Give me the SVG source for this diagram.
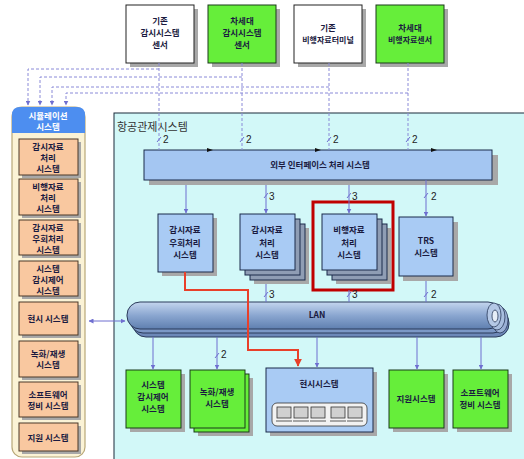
<svg xmlns="http://www.w3.org/2000/svg" width="524" height="459" viewBox="0 0 524 459">
<defs>
<style>
.t{font-family:"Noto Sans CJK KR","Noto Sans",sans-serif;font-size:8.5px;font-weight:bold;fill:#1a1a40;text-anchor:middle}
.tw{font-family:"Noto Sans CJK KR","Noto Sans",sans-serif;font-size:8.5px;font-weight:bold;fill:#ffffff;text-anchor:middle}
.num{font-family:"Liberation Sans",sans-serif;font-size:10px;fill:#222}
.sh{fill:#a8a8a8}
.white{fill:#ffffff;stroke:#222;stroke-width:1}
.green{fill:#66ee3a;stroke:#1a3a1a;stroke-width:1}
.blue{fill:#a9cbf4;stroke:#1a2a4a;stroke-width:1}
.back{fill:#8f9db4;stroke:#1a2a4a;stroke-width:1}
.peach{fill:#f9c8a0;stroke:#4a3828;stroke-width:1}
.dash{fill:none;stroke:#8a8ad8;stroke-width:1;stroke-dasharray:3,2}
.con{fill:none;stroke:#6f6fd0;stroke-width:1}
.tick{stroke:#6f6fd0;stroke-width:1}
.red{fill:none;stroke:#e8402a;stroke-width:2}
</style>
<marker id="ah" viewBox="0 0 10 10" refX="9" refY="5" markerWidth="5" markerHeight="5" orient="auto-start-reverse">
<path d="M0,0 L10,5 L0,10 z" fill="#6f6fd0"/>
</marker>
<marker id="ahr" viewBox="0 0 10 10" refX="9" refY="5" markerWidth="4" markerHeight="4" orient="auto">
<path d="M0,0 L10,5 L0,10 z" fill="#e8402a"/>
</marker>
<linearGradient id="lan" x1="0" y1="0" x2="0" y2="1">
<stop offset="0" stop-color="#c4d6ee"/>
<stop offset="0.5" stop-color="#8aa6d0"/>
<stop offset="1" stop-color="#5f7fb0"/>
</linearGradient>
</defs>

<!-- main system area -->
<g id="atc-system">
<rect x="114" y="113" width="420" height="360" fill="#d2f8f8" stroke="#1a2a3a" stroke-width="1"/>
<text x="117" y="131" style="font-family:'Noto Sans CJK KR',sans-serif;font-size:11px;fill:#333">항공관제시스템</text>
</g>

<!-- top sensor boxes -->
<g id="legacy-surv-sensor">
<rect class="sh" x="130" y="9" width="68" height="58"/>
<rect class="white" x="126" y="5" width="68" height="58"/>
<text class="t" x="160" y="24">기존</text>
<text class="t" x="160" y="36">감시시스템</text>
<text class="t" x="160" y="48">센서</text>
</g>
<g id="nextgen-surv-sensor">
<rect class="sh" x="212" y="9" width="68" height="58"/>
<rect class="green" x="208" y="5" width="68" height="58"/>
<text class="t" x="242" y="24">차세대</text>
<text class="t" x="242" y="36">감시시스템</text>
<text class="t" x="242" y="48">센서</text>
</g>
<g id="legacy-fd-terminal">
<rect class="sh" x="298" y="9" width="68" height="58"/>
<rect class="white" x="294" y="5" width="68" height="58"/>
<text class="t" x="328" y="31">기존</text>
<text class="t" x="328" y="43" style="font-size:8px">비행자료터미널</text>
</g>
<g id="nextgen-fd-sensor">
<rect class="sh" x="380" y="9" width="68" height="58"/>
<rect class="green" x="376" y="5" width="68" height="58"/>
<text class="t" x="410" y="31">차세대</text>
<text class="t" x="410" y="43" style="font-size:8px">비행자료센서</text>
</g>

<!-- simulation column -->
<g id="simulation-system">
<rect x="12" y="107" width="73" height="350" rx="10" fill="#fbf3d6" stroke="#b8a878" stroke-width="1.2"/>
<path d="M12,133 L12,115 Q12,107 20,107 L77,107 Q85,107 85,115 L85,133 Z" fill="#4d8ef0"/>
<text class="tw" x="48" y="119">시뮬레이션</text>
<text class="tw" x="48" y="130">시스템</text>
</g>
<g id="sim-surv-proc">
<rect class="sh" x="22" y="142" width="59" height="36"/>
<rect class="peach" x="19" y="139" width="59" height="36"/>
<text class="t" x="48" y="150">감시자료</text>
<text class="t" x="48" y="161">처리</text>
<text class="t" x="48" y="172">시스템</text>
</g>
<g id="sim-fd-proc">
<rect class="sh" x="22" y="182" width="59" height="36"/>
<rect class="peach" x="19" y="179" width="59" height="36"/>
<text class="t" x="48" y="190">비행자료</text>
<text class="t" x="48" y="201">처리</text>
<text class="t" x="48" y="212">시스템</text>
</g>
<g id="sim-surv-bypass">
<rect class="sh" x="22" y="223" width="59" height="35"/>
<rect class="peach" x="19" y="220" width="59" height="35"/>
<text class="t" x="48" y="231">감시자료</text>
<text class="t" x="48" y="242">우회처리</text>
<text class="t" x="48" y="253">시스템</text>
</g>
<g id="sim-sys-monitor">
<rect class="sh" x="22" y="264" width="59" height="35"/>
<rect class="peach" x="19" y="261" width="59" height="35"/>
<text class="t" x="48" y="272">시스템</text>
<text class="t" x="48" y="283">감시제어</text>
<text class="t" x="48" y="294">시스템</text>
</g>
<g id="sim-display">
<rect class="sh" x="22" y="305" width="59" height="33"/>
<rect class="peach" x="19" y="302" width="59" height="33"/>
<text class="t" x="48" y="322">현시 시스템</text>
</g>
<g id="sim-record">
<rect class="sh" x="22" y="344" width="59" height="36"/>
<rect class="peach" x="19" y="341" width="59" height="36"/>
<text class="t" x="48" y="357">녹화/재생</text>
<text class="t" x="48" y="368">시스템</text>
</g>
<g id="sim-sw-maint">
<rect class="sh" x="22" y="385" width="59" height="35"/>
<rect class="peach" x="19" y="382" width="59" height="35"/>
<text class="t" x="48" y="398">소프트웨어</text>
<text class="t" x="48" y="409">정비 시스템</text>
</g>
<g id="sim-support">
<rect class="sh" x="22" y="426" width="59" height="28"/>
<rect class="peach" x="19" y="423" width="59" height="28"/>
<text class="t" x="48" y="441">지원 시스템</text>
</g>

<!-- external interface -->
<g id="ext-interface">
<rect class="sh" x="149" y="155" width="349" height="30"/>
<rect x="144" y="150" width="348" height="30" fill="#a4c6f2" stroke="#1a2a4a" stroke-width="1"/>
<path d="M207,148 L213,150 L207,152 Z M315,148 L321,150 L315,152 Z M431,148 L437,150 L431,152 Z" fill="#111"/>
<text class="t" x="320" y="168">외부 인터페이스 처리 시스템</text>
</g>

<!-- middle processing boxes -->
<g id="surv-bypass">
<rect class="sh" x="162" y="218" width="55" height="58"/>
<rect class="blue" x="158" y="214" width="55" height="58"/>
<text class="t" x="185" y="233">감시자료</text>
<text class="t" x="185" y="246">우회처리</text>
<text class="t" x="185" y="258">시스템</text>
</g>
<g id="surv-proc">
<rect class="sh" x="254" y="228" width="55" height="56"/>
<rect class="back" x="250" y="224" width="55" height="56"/>
<rect class="back" x="245" y="219" width="55" height="56"/>
<rect class="blue" x="240" y="214" width="55" height="56"/>
<text class="t" x="267" y="233">감시자료</text>
<text class="t" x="267" y="246">처리</text>
<text class="t" x="267" y="258">시스템</text>
</g>
<g id="fd-proc">
<rect class="sh" x="336" y="228" width="55" height="56"/>
<rect class="back" x="332" y="224" width="55" height="56"/>
<rect class="back" x="327" y="219" width="55" height="56"/>
<rect class="blue" x="322" y="214" width="55" height="56"/>
<text class="t" x="349" y="233">비행자료</text>
<text class="t" x="349" y="246">처리</text>
<text class="t" x="349" y="258">시스템</text>
<rect x="313" y="202" width="80" height="88" fill="none" stroke="#c00000" stroke-width="3"/>
</g>
<g id="trs">
<rect class="sh" x="403" y="222" width="55" height="59"/>
<rect class="blue" x="399" y="217" width="54" height="59"/>
<text class="t" x="426" y="244">TRS</text>
<text class="t" x="426" y="256">시스템</text>
</g>

<!-- LAN -->
<g id="lan">
<rect x="133" y="310" width="376" height="27" rx="13" fill="#6d88b8" stroke="#2a3a5a" stroke-width="1"/>
<rect x="130" y="306" width="376" height="27" rx="13" fill="#7c98c6" stroke="#2a3a5a" stroke-width="1"/>
<rect x="127" y="302" width="374" height="27" rx="13" fill="url(#lan)" stroke="#2a3a5a" stroke-width="1"/>
<ellipse cx="500" cy="320" rx="8" ry="13" fill="#9ab0d6" stroke="#2a3a5a" stroke-width="0.8"/>
<ellipse cx="497" cy="317" rx="8" ry="13" fill="#a8bedf" stroke="#2a3a5a" stroke-width="0.8"/>
<ellipse cx="494" cy="315" rx="7" ry="12" fill="#b4c8e6" stroke="#2a3a5a" stroke-width="0.8"/>
<ellipse cx="495" cy="316" rx="3" ry="6" fill="#e6eef8" stroke="#2a3a5a" stroke-width="0.8"/>
<text class="t" x="317" y="318">LAN</text>
</g>

<!-- bottom boxes -->
<g id="sys-monitor">
<rect class="sh" x="130" y="374" width="55" height="58"/>
<rect class="green" x="126" y="370" width="55" height="58"/>
<text class="t" x="153" y="388">시스템</text>
<text class="t" x="153" y="400">감시제어</text>
<text class="t" x="153" y="412">시스템</text>
</g>
<g id="record-replay">
<rect class="sh" x="198" y="378" width="55" height="58"/>
<rect class="green" x="194" y="374" width="55" height="58"/>
<rect class="green" x="190" y="370" width="55" height="58"/>
<text class="t" x="217" y="395">녹화/재생</text>
<text class="t" x="217" y="407">시스템</text>
</g>
<g id="display">
<rect class="sh" x="270" y="372" width="107" height="64"/>
<rect class="blue" x="266" y="368" width="107" height="64"/>
<text class="t" x="319" y="387">현시시스템</text>
<rect x="272" y="403" width="95" height="23" rx="5" fill="#f2f2f2" stroke="#333" stroke-width="0.8"/>
<g fill="#d0d0d0" stroke="#333" stroke-width="0.8">
<rect x="277" y="407" width="14" height="11"/>
<rect x="294" y="407" width="14" height="11"/>
<rect x="311" y="407" width="14" height="11"/>
<rect x="331" y="407" width="14" height="11"/>
<rect x="348" y="407" width="14" height="11"/>
</g>
<g fill="none" stroke="#333" stroke-width="0.8">
<path d="M276,421 L292,421 M293,421 L309,421 M310,421 L326,421 M330,421 L346,421 M347,421 L363,421"/>
</g>
</g>
<g id="support">
<rect class="sh" x="393" y="374" width="55" height="58"/>
<rect class="green" x="389" y="370" width="55" height="58"/>
<text class="t" x="416" y="402">지원시스템</text>
</g>
<g id="sw-maint">
<rect class="sh" x="457" y="374" width="55" height="58"/>
<rect class="green" x="453" y="370" width="55" height="58"/>
<text class="t" x="480" y="396">소프트웨어</text>
<text class="t" x="480" y="408">정비 시스템</text>
</g>

<!-- connectors -->
<g id="connectors">
<!-- dashed sensor feeds -->
<path class="dash" d="M159,63 L159,150 M242,63 L242,150 M329,63 L329,150 M408,63 L408,150"/>
<path class="dash" d="M159,69 L28,69 L28,105" marker-end="url(#ah)"/>
<path class="dash" d="M242,77 L40,77 L40,105" marker-end="url(#ah)"/>
<path class="dash" d="M329,87 L52,87 L52,105" marker-end="url(#ah)"/>
<path class="dash" d="M408,93 L66,93 L66,105" marker-end="url(#ah)"/>
<!-- tick marks and labels on top -->
<path class="tick" d="M157,142 L161,137 M240,142 L244,137 M327,142 L331,137 M406,142 L410,137"/>
<text class="num" x="163" y="143">2</text>
<text class="num" x="246" y="143">2</text>
<text class="num" x="333" y="143">2</text>
<text class="num" x="412" y="143">2</text>
<!-- interface to middle boxes -->
<path class="con" d="M186,185 L186,213" marker-end="url(#ah)"/>
<path class="con" d="M266,185 L266,213" marker-end="url(#ah)"/>
<path class="con" d="M349,185 L349,213" marker-end="url(#ah)"/>
<path class="con" d="M426,180 L426,216" marker-end="url(#ah)"/>
<path class="tick" d="M264,198 L268,193 M347,198 L351,193 M424,198 L428,193"/>
<text class="num" x="269" y="200">3</text>
<text class="num" x="352" y="200">3</text>
<text class="num" x="431" y="200">2</text>
<!-- middle boxes to LAN -->
<path class="con" d="M266,284 L266,302 M349,290 L349,302 M426,281 L426,302"/>
<path class="tick" d="M264,297 L268,292 M347,297 L351,292 M424,297 L428,292"/>
<text class="num" x="269" y="298">3</text>
<text class="num" x="352" y="298">3</text>
<text class="num" x="431" y="298">2</text>
<!-- sim <-> LAN -->
<path class="con" d="M89,321 L125,321" marker-start="url(#ah)" marker-end="url(#ah)"/>
<!-- LAN to bottom boxes -->
<path class="con" d="M153,337 L153,369" marker-end="url(#ah)"/>
<path class="con" d="M217,337 L217,369" marker-end="url(#ah)"/>
<path class="con" d="M317,337 L317,367" marker-end="url(#ah)"/>
<path class="con" d="M417,337 L417,369" marker-end="url(#ah)"/>
<path class="con" d="M481,337 L481,369" marker-end="url(#ah)"/>
<path class="tick" d="M215,358 L219,353"/>
<text class="num" x="221" y="358">2</text>
<!-- red path -->
<path class="red" d="M185,272 L185,290 L248,290 L248,350 L298,350 L298,366" marker-end="url(#ahr)"/>
</g>
</svg>
